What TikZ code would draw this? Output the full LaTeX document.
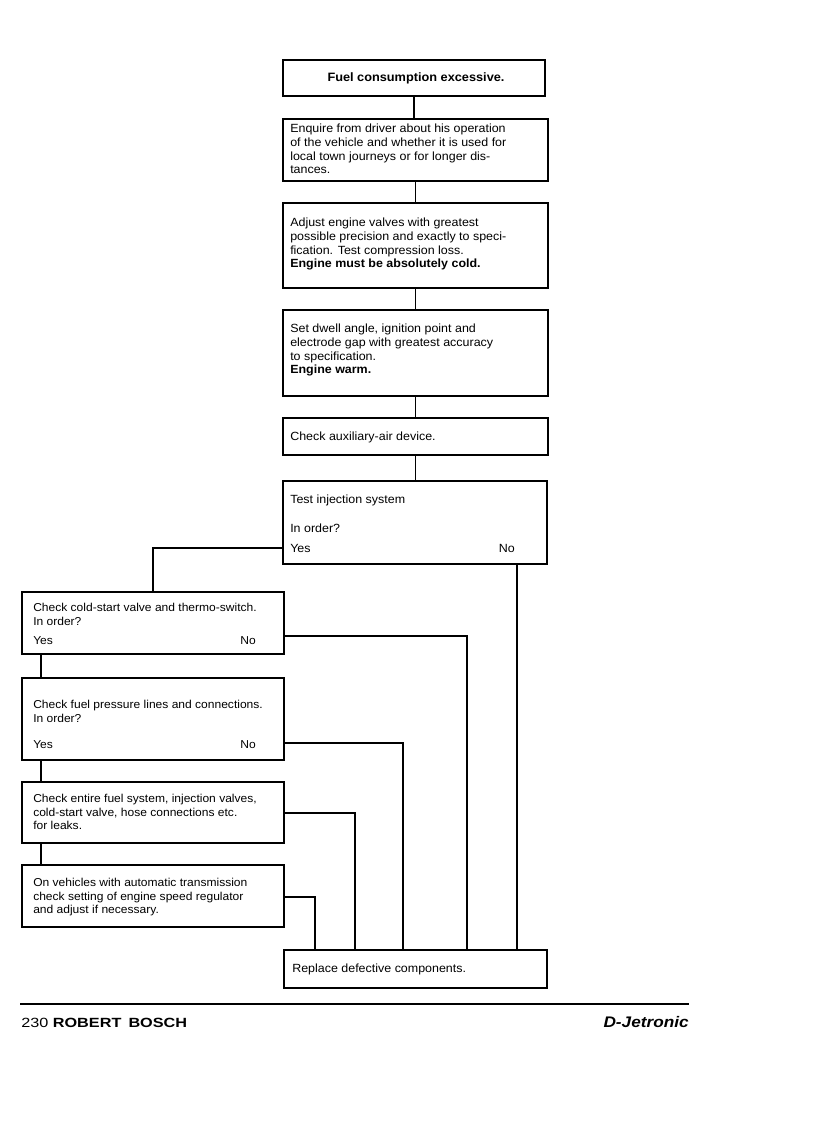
\documentclass[tikz,border=0pt]{standalone}
\usepackage{fontspec}
\setmainfont{Liberation Sans}[FakeStretch=1.05]
\usetikzlibrary{fit,calc}
\begin{document}
\begin{tikzpicture}[x=0.75pt,y=-0.75pt,
 box/.style={draw, line width=1pt, inner sep=0pt},
 txt/.style={anchor=north west, inner sep=0pt, align=left, font=\fontsize{8.9}{10.2}\selectfont},
 lbl/.style={inner sep=0pt, font=\fontsize{8.9}{10.2}\selectfont},
 ltxt/.style={anchor=north west, inner sep=0pt, align=left, font=\fontsize{8.6}{10.2}\selectfont},
 llbl/.style={inner sep=0pt, font=\fontsize{8.6}{10.2}\selectfont},
 con/.style={line width=0.8pt}]
\useasboundingbox (0,0) rectangle (816,1122);
% main column boxes
\node[box, fit={(283,60)(545,96)}] (A) {};
\node[inner sep=0pt, font=\bfseries\fontsize{9.1}{10}\selectfont] (At) at (416,78) {Fuel consumption excessive.};
\node[box, fit={(283,119)(548,181)}] (B) {};
\node[txt] (Bt) at (290,124) {Enquire from driver about his operation\\of the vehicle and whether it is used for\\local town journeys or for longer dis-\\tances.};
\node[box, fit={(283,203)(548,288)}] (C) {};
\node[txt] (Ct) at (290,218) {Adjust engine valves with greatest\\possible precision and exactly to speci-\\fication. Test compression loss.\\\textbf{Engine must be absolutely cold.}};
\node[box, fit={(283,310)(548,396)}] (D) {};
\node[txt] (Dt) at (290,324) {Set dwell angle, ignition point and\\electrode gap with greatest accuracy\\to specification.\\\textbf{Engine warm.}};
\node[box, fit={(283,418)(548,455)}] (E) {};
\node[lbl, anchor=west] (Et) at (290,437) {Check auxiliary-air device.};
\node[box, fit={(283,481)(547,564)}] (F) {};
\node[lbl, anchor=west] (Ft) at (290,500) {Test injection system};
\node[lbl, anchor=west] (Fq) at (290,528) {In order?};
\node[lbl, anchor=west] (Fyes) at (290,548) {Yes};
\node[lbl, anchor=east] (Fno) at (515,548) {No};
% left column boxes
\node[box, fit={(22,592)(284,654)}] (G) {};
\node[ltxt] (Gt) at (33,603) {Check cold-start valve and thermo-switch.\\In order?};
\node[llbl, anchor=west] (Gyes) at (33,641) {Yes};
\node[llbl, anchor=east] (Gno) at (256,641) {No};
\node[box, fit={(22,678)(284,760)}] (H) {};
\node[ltxt] (Ht) at (33,700) {Check fuel pressure lines and connections.\\In order?};
\node[llbl, anchor=west] (Hyes) at (33,745) {Yes};
\node[llbl, anchor=east] (Hno) at (256,745) {No};
\node[box, fit={(22,782)(284,843)}] (I) {};
\node[ltxt] (It) at (33,794) {Check entire fuel system, injection valves,\\cold-start valve, hose connections etc.\\for leaks.};
\node[box, fit={(22,865)(284,927)}] (J) {};
\node[ltxt] (Jt) at (33,878) {On vehicles with automatic transmission\\check setting of engine speed regulator\\and adjust if necessary.};
\node[box, fit={(284,950)(547,988)}] (R) {};
\node[lbl, anchor=west] (Rt) at (292,969) {Replace defective components.};
% connectors
\draw[con] (A.south) -- (A.south |- B.north);
\draw[con] (B.south) -- (B.south |- C.north);
\draw[con] (C.south) -- (C.south |- D.north);
\draw[con] (D.south) -- (D.south |- E.north);
\draw[con] (E.south) -- (E.south |- F.north);
\draw[con] (F.west |- Fyes) -| (G.north);
\coordinate (cF) at (517,0);
\coordinate (cG) at (467,636);
\coordinate (cH) at (403,743);
\coordinate (cI) at (355,813);
\coordinate (cJ) at (315,897);
\coordinate (cL) at (41,0);
\draw[con] (F.south -| cF) -- (R.north -| cF);
\draw[con] (G.east |- cG) -| (R.north -| cG);
\draw[con] (H.east |- cH) -| (R.north -| cH);
\draw[con] (I.east |- cI) -| (R.north -| cI);
\draw[con] (J.east |- cJ) -| (R.north -| cJ);
\draw[con] (G.south -| cL) -- (H.north -| cL);
\draw[con] (H.south -| cL) -- (I.north -| cL);
\draw[con] (I.south -| cL) -- (J.north -| cL);
% footer
\coordinate (fl) at (20,1004);
\coordinate (fr) at (689,1004);
\draw[line width=1.8pt] (fl) -- (fr);
\node[inner sep=0pt, anchor=base west, font=\fontsize{10}{12}\selectfont] (pg) at (21,1027) {\scalebox{1.16}[1]{230 \textbf{ROBERT\, BOSCH}}};
\node[inner sep=0pt, anchor=base east, font=\bfseries\itshape\fontsize{11.5}{13}\selectfont] (dj) at (689,1027) {\scalebox{1.07}[1]{D-Jetronic}};
\end{tikzpicture}
\end{document}
